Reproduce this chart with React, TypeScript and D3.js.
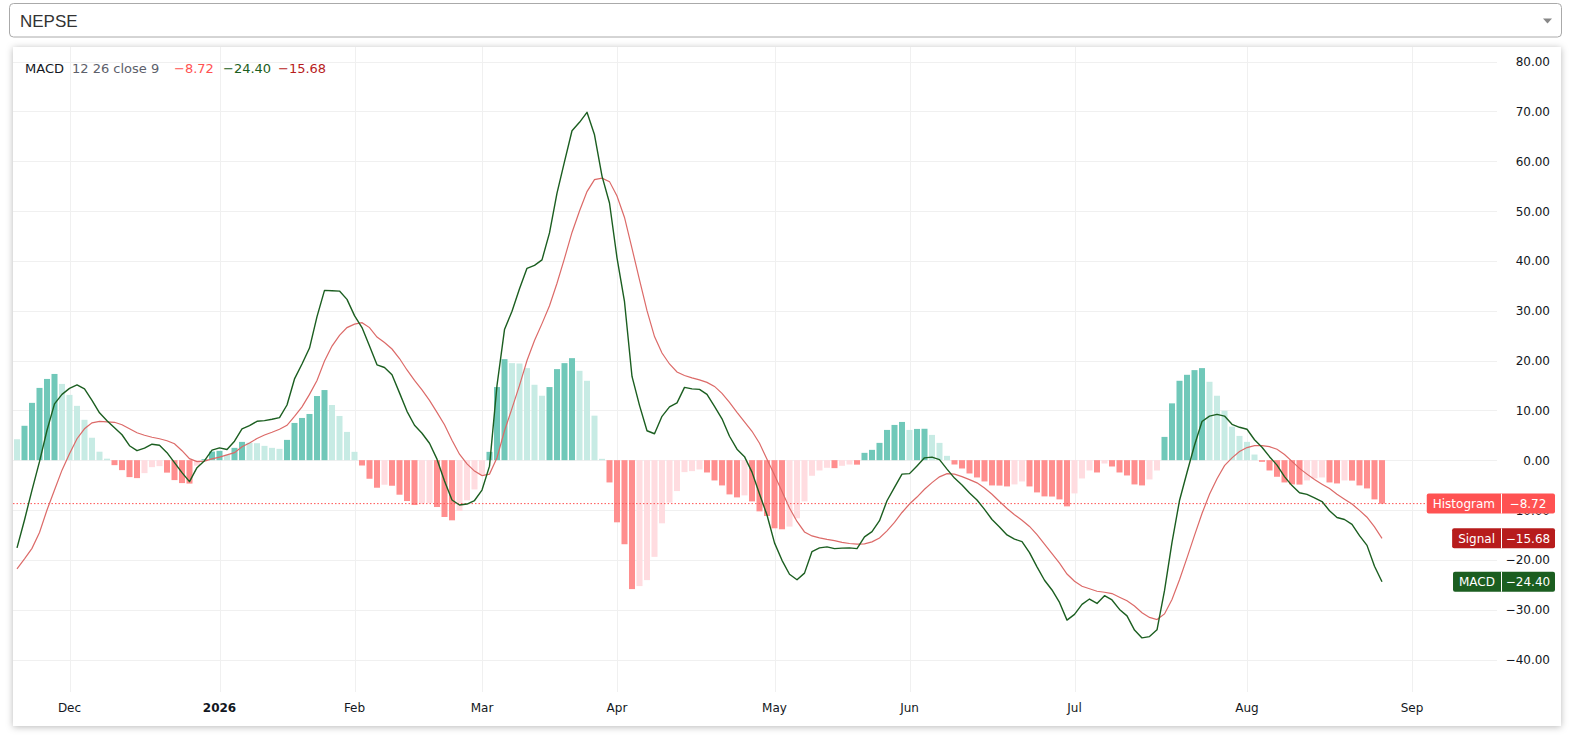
import { useRef, useEffect } from 'react'
import * as d3 from 'd3'

// MACD(12, 26, close, 9) for NEPSE, one value per trading day
const histogram = [
  4.2, 6.9, 11.5, 14.5, 16.3, 17.3, 15.3, 13.1, 10.9, 8.1,
  4.5, 1.7, 0.3, -1.0, -2.0, -3.4, -3.6, -2.6, -1.4, -1.2,
  -2.5, -4.0, -4.6, -4.7, -1.1, 0.2, 1.73, 1.87, 1.07, 2.47,
  3.67, 3.5, 3.4, 2.87, 2.47, 2.27, 4.07, 7.47, 8.47, 9.27,
  12.87, 14.07, 11.07, 8.87, 5.67, 1.67, -1.07, -3.73, -5.53, -4.93,
  -5.13, -6.93, -8.2, -9.0, -8.73, -8.6, -9.4, -11.4, -12.07, -10.2,
  -8.07, -5.87, -2.87, 1.67, 14.67, 20.27, 19.47, 19.4, 18.47, 15.13,
  12.93, 14.67, 18.27, 19.47, 20.47, 17.93, 15.93, 8.93, 0.27, -4.47,
  -12.47, -16.87, -25.87, -25.27, -24.07, -19.4, -12.67, -8.53, -6.2, -2.4,
  -2.2, -1.87, -2.47, -4.07, -5.07, -6.87, -7.47, -7.07, -8.27, -10.27,
  -11.2, -13.67, -13.87, -13.33, -11.67, -8.27, -3.13, -2.07, -1.53, -1.6,
  -1.13, -0.87, -0.9, 1.47, 2.07, 3.47, 6.07, 7.07, 7.67, 6.07,
  6.27, 6.3, 5.07, 3.47, 0.87, -0.87, -1.67, -2.67, -3.47, -4.27,
  -5.07, -5.1, -5.27, -4.87, -4.27, -5.27, -6.47, -7.27, -7.3, -7.87,
  -9.27, -6.67, -3.67, -2.07, -2.47, -0.67, -1.27, -2.47, -3.07, -4.87,
  -5.07, -3.87, -2.07, 4.67, 11.4, 15.93, 17.13, 18.07, 18.47, 15.73,
  12.93, 9.93, 6.73, 4.87, 3.67, 1.13, -0.33, -2.07, -3.33, -4.47,
  -4.87, -4.9, -4.07, -3.67, -3.47, -4.47, -4.67, -4.07, -4.1, -5.07,
  -5.67, -7.87, -8.72,
]

const macd = [
  -17.6, -12.0, -6.0, -0.3, 6.0, 11.3, 13.2, 14.4, 15.1, 14.3,
  12.0, 9.5, 7.9, 6.5, 5.1, 2.9, 1.9, 2.4, 3.2, 3.0,
  1.5, -0.5, -2.5, -4.3, -1.5, -0.1, 2.0, 2.47, 2.13, 3.8,
  6.27, 6.93, 7.8, 7.93, 8.2, 8.53, 11.07, 16.3, 19.3, 22.5,
  28.8, 34.07, 34.0, 33.93, 32.27, 29.0, 26.6, 22.9, 19.13, 18.6,
  17.13, 13.5, 9.8, 7.0, 5.4, 3.4, 0.2, -4.2, -8.0, -9.0,
  -8.8, -8.1, -6.0, -1.2, 15.0, 26.2, 29.9, 34.4, 38.5, 39.1,
  40.2, 45.6, 53.6, 59.9, 66.1, 67.8, 69.8, 65.3, 57.0, 51.6,
  40.6, 31.8, 16.8, 11.0, 5.9, 5.3, 8.8, 10.7, 11.5, 14.6,
  14.3, 14.2, 13.2, 10.8, 8.3, 4.8, 2.2, 0.7, -2.4, -6.8,
  -11.0, -16.6, -20.1, -22.9, -24.0, -22.67, -18.33, -17.6, -17.4, -17.75,
  -17.65, -17.6, -17.75, -15.4, -14.35, -12.15, -8.15, -5.45, -2.8, -2.7,
  -1.15, 0.47, 0.6, 0.1, -1.8, -3.6, -4.97, -6.57, -8.0, -9.87,
  -11.9, -13.4, -15.0, -15.85, -16.33, -18.55, -21.4, -24.1, -26.05, -28.55,
  -32.1, -30.95, -28.95, -27.87, -28.75, -27.2, -28.05, -29.95, -31.25, -34.1,
  -35.67, -35.4, -34.05, -26.2, -16.5, -8.1, -2.47, 3.0, 7.77, 8.85,
  9.2, 8.85, 7.2, 6.6, 6.2, 4.1, 2.6, 0.7, -1.0, -3.3,
  -5.1, -6.55, -6.87, -7.57, -8.3, -10.15, -11.5, -11.9, -12.9, -15.15,
  -17.1, -21.3, -24.4,
]

const signal = [
  -21.8, -19.8, -17.7, -14.5, -10.0, -6.0, -2.0, 1.3, 4.3, 6.3,
  7.5, 7.8, 7.7, 7.6, 7.1, 6.3, 5.5, 5.0, 4.6, 4.3,
  3.9, 3.3, 1.9, 0.3, -0.3, -0.2, 0.27, 0.6, 1.06, 1.5,
  2.7, 3.45, 4.35, 5.05, 5.6, 6.2, 7.0, 8.8, 10.7, 13.2,
  16.0, 19.9, 22.9, 25.06, 26.6, 27.3, 27.6, 26.6, 24.7, 23.6,
  22.3, 20.4, 18.1, 16.0, 14.1, 12.0, 9.6, 7.1, 4.0, 1.2,
  -0.75, -2.2, -3.1, -2.8, 0.5, 5.9, 10.4, 15.0, 20.0, 24.0,
  27.4, 31.0, 35.5, 40.5, 45.7, 50.0, 53.9, 56.3, 56.6, 55.9,
  53.0, 48.7, 42.5, 36.2, 30.0, 24.8, 21.5, 19.3, 17.7, 17.0,
  16.5, 16.1, 15.6, 14.8, 13.4, 11.6, 9.6, 7.7, 5.8, 3.4,
  0.2, -3.0, -6.3, -9.6, -12.3, -14.4, -15.2, -15.6, -15.9, -16.15,
  -16.5, -16.72, -16.85, -16.8, -16.4, -15.6, -14.2, -12.5, -10.5, -8.8,
  -7.4, -5.83, -4.5, -3.35, -2.7, -2.8, -3.3, -3.9, -4.55, -5.6,
  -6.85, -8.3, -9.7, -10.95, -12.05, -13.3, -14.93, -16.85, -18.73, -20.67,
  -22.85, -24.3, -25.3, -25.8, -26.3, -26.5, -26.77, -27.5, -28.2, -29.25,
  -30.6, -31.55, -31.98, -30.85, -27.95, -24.0, -19.6, -15.08, -10.7, -6.85,
  -3.72, -1.1, 0.47, 1.72, 2.53, 2.93, 2.9, 2.7, 2.2, 1.15,
  -0.25, -1.65, -2.8, -3.9, -4.82, -5.7, -6.82, -7.82, -8.8, -10.08,
  -11.45, -13.4, -15.68,
]

// month ticks on the time scale (bar index of first trading day)
const monthLabels = ['Dec', '2026', 'Feb', 'Mar', 'Apr', 'May', 'Jun', 'Jul', 'Aug', 'Sep']
const monthIndex = [7, 27, 45, 62, 80, 101, 119, 141, 164, 186]

const priceTicks = [80, 70, 60, 50, 40, 30, 20, 10, 0, -10, -20, -30, -40]

const W = 1577
const H = 736
const FONT = "'DejaVu Sans', Roboto, sans-serif"

const fmt = (v: number) => (v < 0 ? '\u2212' : '') + Math.abs(v).toFixed(2)

export default function App() {
  const svgRef = useRef<SVGSVGElement>(null)

  useEffect(() => {
    if (!svgRef.current) return
    const svg = d3.select(svgRef.current)
    svg.selectAll('*').remove()

    const card = { x: 13, y: 47, w: 1548, h: 679 }
    const plot = { left: 13, right: 1497, top: 47, bottom: 692 }

    const x = d3.scaleLinear().domain([0, 182]).range([17, 1382])
    const y = d3.scaleLinear().domain([-40, 80]).range([659.5, 61.5])
    const barW = 6

    const defs = svg.append('defs')
    defs
      .append('filter')
      .attr('id', 'shadow')
      .attr('x', '-5%')
      .attr('y', '-5%')
      .attr('width', '110%')
      .attr('height', '115%')
      .append('feDropShadow')
      .attr('dx', 0)
      .attr('dy', 1)
      .attr('stdDeviation', 3.5)
      .attr('flood-color', '#000')
      .attr('flood-opacity', 0.28)
    defs
      .append('clipPath')
      .attr('id', 'plotClip')
      .append('rect')
      .attr('x', plot.left)
      .attr('y', plot.top)
      .attr('width', plot.right - plot.left)
      .attr('height', plot.bottom - plot.top)

    // symbol selector
    svg.append('rect')
      .attr('x', 9.5).attr('y', 3.5).attr('width', 1552).attr('height', 33.5).attr('rx', 4)
      .attr('fill', '#fff').attr('stroke', '#aaa')
    svg.append('text')
      .attr('x', 20).attr('y', 26.5)
      .attr('font-family', "'Liberation Sans', Arial, sans-serif").attr('font-size', 17)
      .attr('fill', '#333').text('NEPSE')
    svg.append('path').attr('d', 'M1543,18.5 L1552,18.5 L1547.5,23.5 Z').attr('fill', '#888')

    // chart card
    svg.append('rect')
      .attr('x', card.x).attr('y', card.y).attr('width', card.w).attr('height', card.h)
      .attr('fill', '#fff').attr('filter', 'url(#shadow)')

    // grid
    const grid = svg.append('g').attr('stroke', '#f0f0f0').attr('stroke-width', 1)
    priceTicks.forEach((t) => {
      grid.append('line')
        .attr('x1', plot.left).attr('x2', plot.right)
        .attr('y1', Math.round(y(t)) + 0.5).attr('y2', Math.round(y(t)) + 0.5)
    })
    monthIndex.forEach((m) => {
      grid.append('line')
        .attr('x1', Math.round(x(m)) + 0.5).attr('x2', Math.round(x(m)) + 0.5)
        .attr('y1', plot.top).attr('y2', plot.bottom)
    })

    const g = svg.append('g').attr('clip-path', 'url(#plotClip)')

    // histogram bars
    const barColor = (v: number, i: number) => {
      const prev = i > 0 ? histogram[i - 1] : v
      if (v >= 0) return v > prev ? '#70c8b9' : '#c7ebe4'
      return v < prev ? '#ff8e8e' : '#ffdce0'
    }
    g.selectAll('.bar')
      .data(histogram)
      .join('rect')
      .attr('class', 'bar')
      .attr('x', (_, i) => x(i) - barW / 2)
      .attr('y', (d) => y(Math.max(0, d)))
      .attr('width', barW)
      .attr('height', (d) => Math.abs(y(d) - y(0)))
      .attr('fill', (d, i) => barColor(d, i))

    // last histogram value line
    const lastH = histogram[histogram.length - 1]
    g.append('line')
      .attr('x1', plot.left).attr('x2', plot.right)
      .attr('y1', y(lastH)).attr('y2', y(lastH))
      .attr('stroke', '#ff5252').attr('stroke-width', 1).attr('stroke-dasharray', '1.5,2')

    const line = d3.line<number>().x((_, i) => x(i)).y((d) => y(d))

    g.append('path').datum(signal).attr('d', line)
      .attr('fill', 'none').attr('stroke', '#dc6a68').attr('stroke-width', 1.2)

    g.append('path').datum(macd).attr('d', line)
      .attr('fill', 'none').attr('stroke', '#1b5e20').attr('stroke-width', 1.4)
      .attr('stroke-linejoin', 'round')

    // price scale labels
    svg.append('g')
      .selectAll('text')
      .data(priceTicks)
      .join('text')
      .attr('x', 1550)
      .attr('y', (d) => y(d) + 4.5)
      .attr('text-anchor', 'end')
      .attr('font-family', FONT)
      .attr('font-size', 12)
      .attr('fill', '#131722')
      .text((d) => fmt(d))

    // time scale labels
    svg.append('g')
      .selectAll('text')
      .data(monthLabels)
      .join('text')
      .attr('x', (_, i) => x(monthIndex[i]))
      .attr('y', 712)
      .attr('text-anchor', 'middle')
      .attr('font-family', FONT)
      .attr('font-size', 12)
      .attr('font-weight', (d) => (d === '2026' ? 'bold' : 'normal'))
      .attr('fill', '#131722')
      .text((d) => d)

    // series labels on the price scale
    const lastM = macd[macd.length - 1]
    const lastS = signal[signal.length - 1]
    const labels = [
      { title: 'Histogram', value: lastH, bg: '#ff5252' },
      { title: 'Signal', value: lastS, bg: '#b71c1c' },
      { title: 'MACD', value: lastM, bg: '#1b5e20' },
    ]
    labels.forEach((l) => {
      const cy = y(l.value)
      const lg = svg.append('g')
      const title = lg.append('text')
        .attr('y', cy + 4.5)
        .attr('font-family', FONT).attr('font-size', 12).attr('fill', '#fff')
        .text(l.title)
      const tw = (title.node() as SVGTextElement).getComputedTextLength()
      const tx = 1501 - tw - 12
      lg.insert('rect', 'text')
        .attr('x', tx).attr('y', cy - 10).attr('width', 1555 - tx).attr('height', 20)
        .attr('rx', 2).attr('fill', l.bg)
      lg.insert('line', 'text')
        .attr('x1', 1501.5).attr('x2', 1501.5).attr('y1', cy - 10).attr('y2', cy + 10)
        .attr('stroke', '#fff').attr('stroke-width', 1)
      title.attr('x', tx + 6)
      lg.append('text')
        .attr('x', 1528).attr('y', cy + 4.5).attr('text-anchor', 'middle')
        .attr('font-family', FONT).attr('font-size', 12).attr('fill', '#fff')
        .text(fmt(l.value))
    })

    // legend
    const legend = svg.append('text')
      .attr('y', 73).attr('font-family', FONT).attr('font-size', 13)
    legend.append('tspan').attr('x', 25).attr('fill', '#131722').text('MACD')
    legend.append('tspan').attr('x', 72).attr('fill', '#5d606b').text('12 26 close 9')
    legend.append('tspan').attr('x', 174).attr('fill', '#ff5252').text(fmt(lastH))
    legend.append('tspan').attr('x', 223).attr('fill', '#1b5e20').text(fmt(lastM))
    legend.append('tspan').attr('x', 278).attr('fill', '#b71c1c').text(fmt(lastS))
  }, [])

  return (
    <div style={{ position: 'absolute', left: 0, top: 0, width: W, height: H, background: '#fff' }}>
      <svg ref={svgRef} width={W} height={H} style={{ display: 'block' }} />
    </div>
  )
}
